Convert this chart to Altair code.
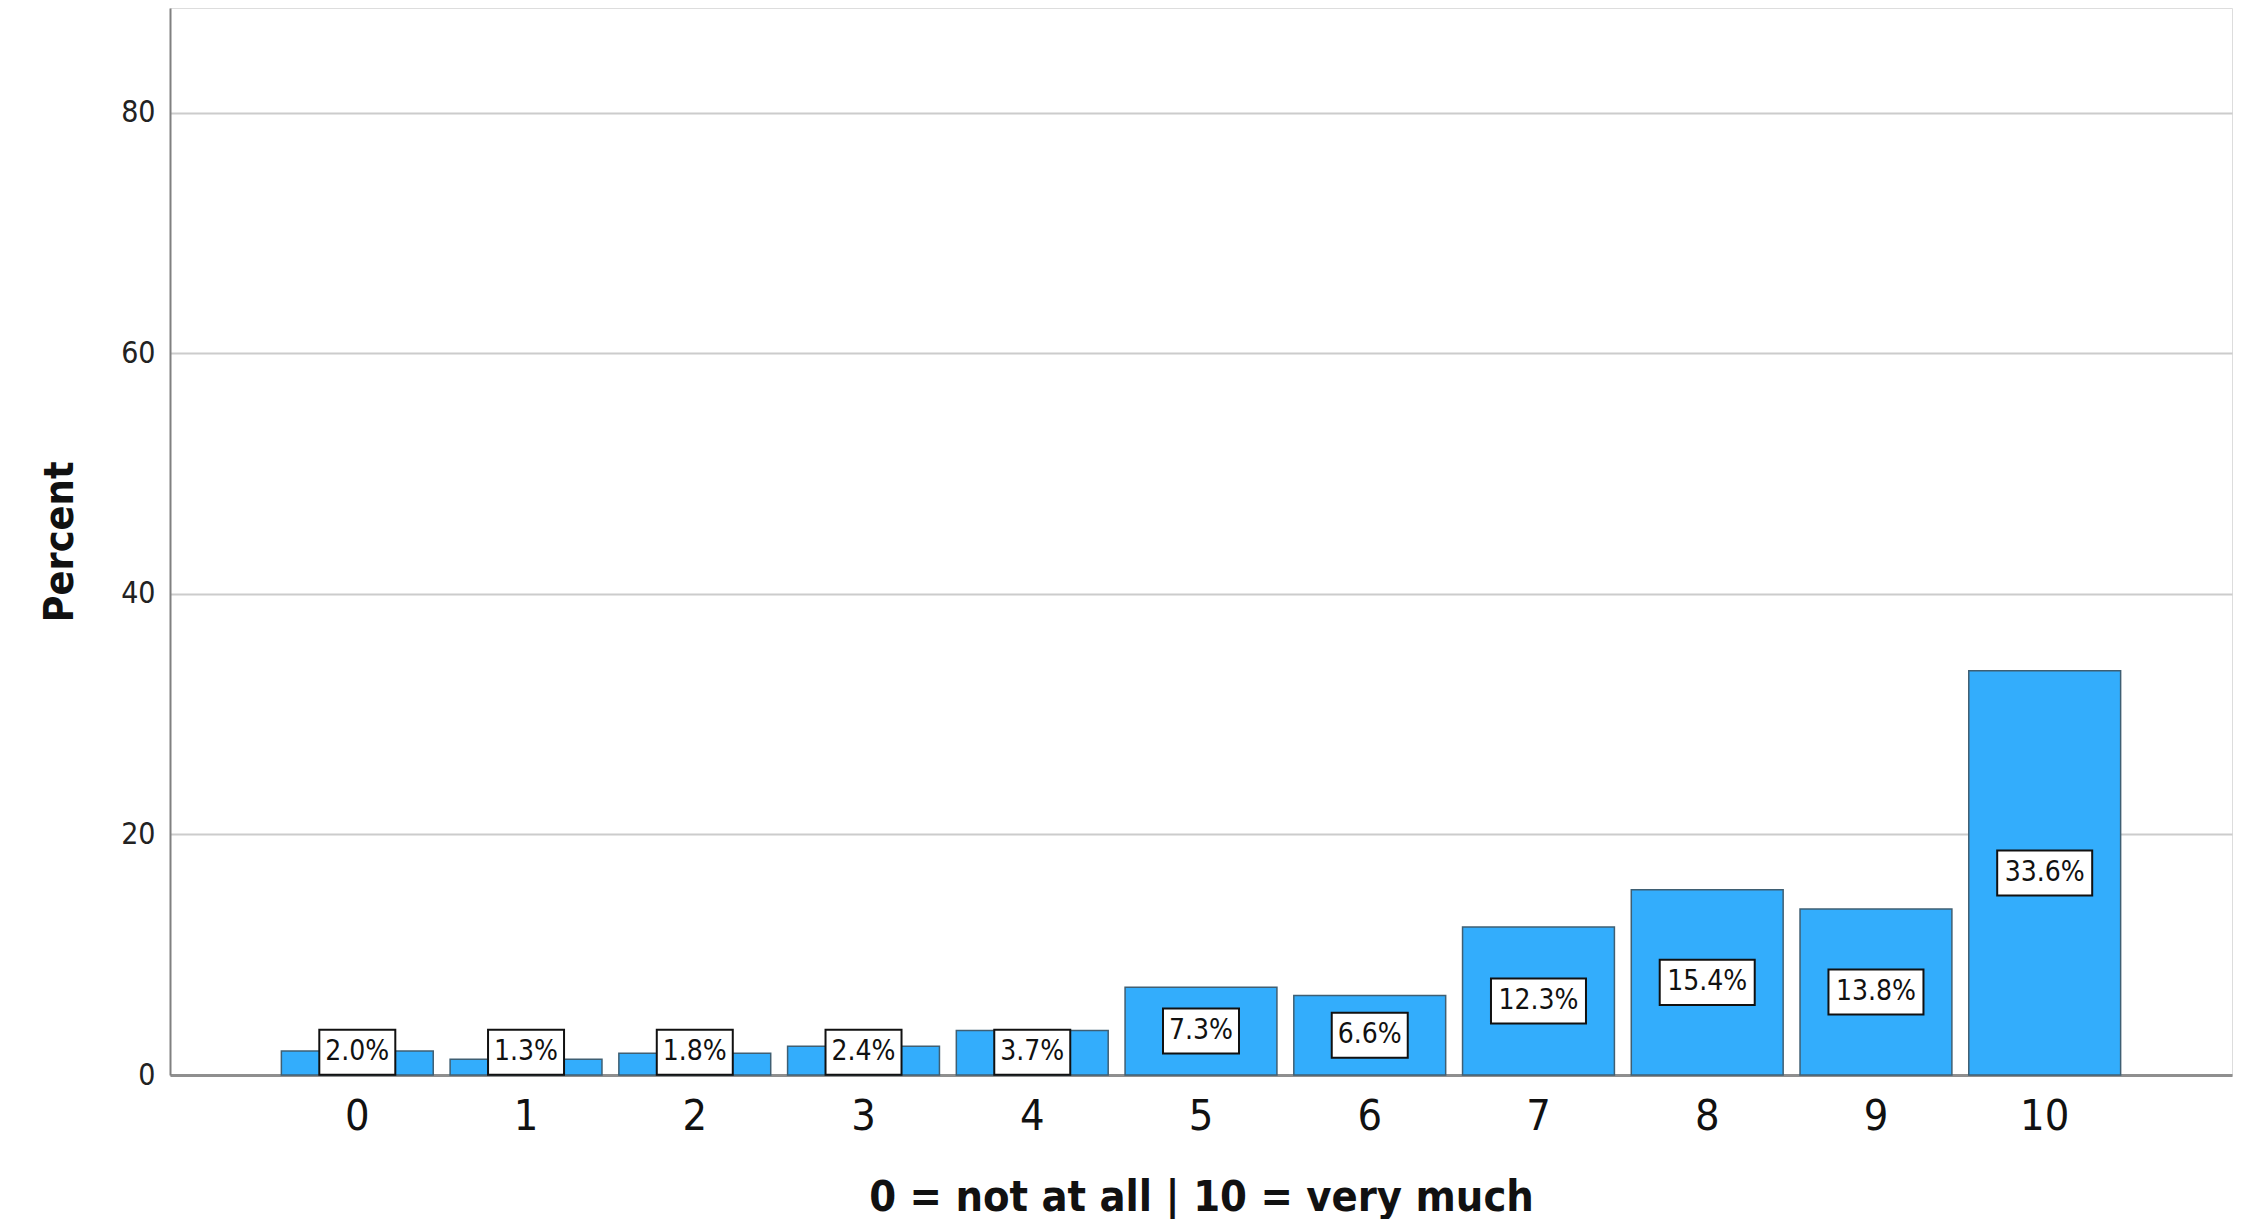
import altair as alt
import pandas as pd

categories = ["0", "1", "2", "3", "4", "5", "6", "7", "8", "9", "10"]
percents = [2.0, 1.3, 1.8, 2.4, 3.7, 7.3, 6.6, 12.3, 15.4, 13.8, 33.6]
labels = ["2.0%", "1.3%", "1.8%", "2.4%", "3.7%", "7.3%", "6.6%", "12.3%", "15.4%", "13.8%", "33.6%"]

df = pd.DataFrame({"cat": categories, "pct": percents, "lab": labels})

FONT = "DejaVu Sans Condensed, Liberation Sans Narrow, DejaVu Sans, sans-serif"

xenc = alt.X(
    "cat:O",
    sort=categories,
    scale=alt.Scale(paddingInner=0.1, paddingOuter=0.66),
    axis=alt.Axis(
        title="0 = not at all | 10 = very much",
        labelAngle=0,
        labelFontSize=43,
        labelFont=FONT,
        labelColor="#111111",
        labelPadding=20,
        ticks=False,
        domainColor="#8f8f8f",
        domainWidth=3,
        titleFontSize=43,
        titleFont=FONT,
        titleFontWeight="bold",
        titleColor="#111111",
        titlePadding=38,
    ),
)

yscale = alt.Scale(domain=[0, 88.7], nice=False, zero=True)

bars = alt.Chart(df).mark_bar(
    color="#33adfc", stroke="#3f5f73", strokeWidth=1.5
).encode(
    x=xenc,
    y=alt.Y(
        "pct:Q",
        scale=yscale,
        axis=alt.Axis(
            title="Percent",
            values=[0, 20, 40, 60, 80],
            labelFontSize=30,
            labelFont=FONT,
            labelColor="#222222",
            labelPadding=15,
            ticks=False,
            domainColor="#808080",
            domainWidth=2,
            gridColor="#cccccc",
            gridWidth=2,
            titleFontSize=41,
            titleFont=FONT,
            titleFontWeight="bold",
            titleColor="#111111",
            titlePadding=39,
        ),
    ),
)

lab_base = alt.Chart(df).transform_calculate(
    ly="max(datum.pct / 2, 1.9)",
    w="length(datum.lab) > 4 ? 95 : 76",
).transform_calculate(
    sz="datum.w * datum.w",
    shp="'M-1,-' + format(45 / datum.w, '.4f') + 'H1V' + format(45 / datum.w, '.4f') + 'H-1Z'",
)

boxes = lab_base.mark_point(
    filled=True, fill="white", stroke="#111111", strokeWidth=2, opacity=1
).encode(
    x=alt.X("cat:O", sort=categories),
    y=alt.Y("ly:Q", scale=yscale),
    size=alt.Size("sz:Q", scale=None, legend=None),
    shape=alt.Shape("shp:N", scale=None, legend=None),
)

texts = lab_base.mark_text(
    fontSize=28, font=FONT, color="#111111", baseline="middle", align="center"
).encode(
    x=alt.X("cat:O", sort=categories),
    y=alt.Y("ly:Q", scale=yscale),
    text="lab:N",
)

chart = alt.layer(bars, boxes, texts).properties(
    width=2062, height=1067,
    padding={"left": 31, "top": 0, "right": 5, "bottom": 0},
).configure_view(stroke=None).configure(background="white")

chart.save("out.html", embed_options={"renderer": "svg", "actions": False})
